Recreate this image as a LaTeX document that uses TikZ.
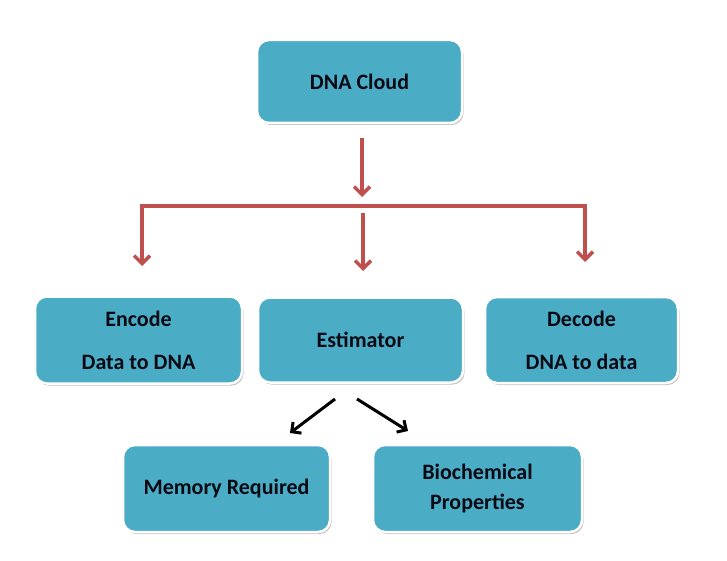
\documentclass[tikz,border=0pt]{standalone}
\usepackage{fontspec}
\setmainfont{Carlito}
\usetikzlibrary{arrows.meta,shadows}
\definecolor{boxteal}{HTML}{4BACC6}
\definecolor{linered}{HTML}{C0504D}
\definecolor{txt}{HTML}{0A0A14}
\tikzset{
  box/.style={rectangle, rounded corners=12pt, fill=boxteal, draw=white, line width=2.5pt,
    text=txt, font=\fontsize{22}{26}\selectfont\bfseries, align=center, inner sep=0pt,
    drop shadow={shadow xshift=1.5pt, shadow yshift=-2pt, opacity=0.4, fill=black!60}},
  redarrow/.style={draw=linered, line width=3.4pt, -{Straight Barb[length=8pt,width=16pt]}},
  redline/.style={draw=linered, line width=3.4pt},
  blackarrow/.style={draw=black, line width=3pt, -{Straight Barb[length=7pt,width=14pt]}}
}
\begin{document}
\begin{tikzpicture}[x=1pt,y=-1pt]
\useasboundingbox (0,0) rectangle (727,561);
\node[box, minimum width=205pt, minimum height=83pt] (dna) at (359.5,81.5) {DNA Cloud};
\node[box, minimum width=207pt, minimum height=87pt] (enc) at (138.5,340) {Encode\\[17pt]Data to DNA};
\node[box, minimum width=205pt, minimum height=85pt] (est) at (360.5,340) {Estimator};
\node[box, minimum width=193pt, minimum height=86pt] (dec) at (581.5,340) {Decode\\[17pt]DNA to data};
\node[box, minimum width=207pt, minimum height=87pt] (mem) at (226.5,488.5) {Memory Required};
\node[box, minimum width=209pt, minimum height=87pt] (bio) at (477.5,488.5) {Biochemical\\[4pt]Properties};
% red connectors
\coordinate (a0) at (362,138);
\coordinate (a1) at (362,197);
\coordinate (bl) at (142,206);
\coordinate (br) at (585,206);
\coordinate (el) at (142,266);
\coordinate (m0) at (363,213);
\coordinate (m1) at (363,271);
\coordinate (er) at (585,262);
\draw[redarrow] (a0) -- (a1);
\draw[redline, line cap=rect] (bl) -- (br);
\draw[redarrow] (bl) -- (el);
\draw[redarrow] (m0) -- (m1);
\draw[redarrow] (br) -- (er);
% black connectors
\coordinate (k0) at (335,399);
\coordinate (k1) at (290,433);
\coordinate (k2) at (357,399);
\coordinate (k3) at (408,431);
\draw[blackarrow] (k0) -- (k1);
\draw[blackarrow] (k2) -- (k3);
\end{tikzpicture}
\end{document}
